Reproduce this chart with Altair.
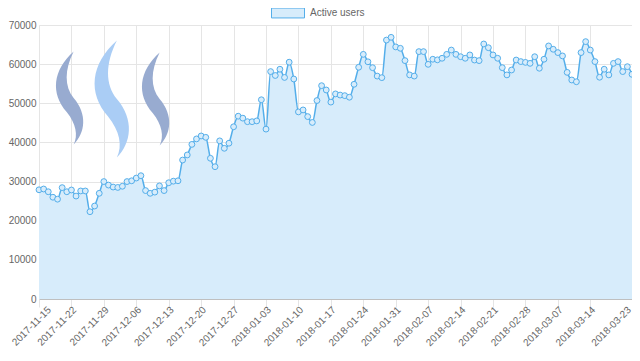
import altair as alt
import pandas as pd

start_date = "2017-11-15"
active_users = [
    27900, 28100, 27400, 26000, 25500, 28450, 27400, 27850, 26300, 27600,
    27600, 22300, 23750, 27000, 30000, 29100, 28600, 28500, 28800, 30000,
    30200, 30900, 31500, 27700, 27000, 27300, 28900, 27700, 29700, 30100,
    30200, 35500, 36800, 39500, 40900, 41650, 41300, 35950, 33800, 40400,
    38500, 39800, 44000, 46700, 46200, 45300, 45300, 45500, 50900, 43400,
    58100, 57100, 58700, 56600, 60500, 56200, 47800, 48300, 46600, 45100,
    50700, 54500, 53400, 50300, 52400, 52100, 51950, 51550, 54850, 59200,
    62500, 60600, 59100, 56950, 56550, 66150, 66850, 64400, 64050, 60900,
    57250, 56950, 63200, 63200, 59950, 61250, 61100, 61500, 62500, 63600,
    62500, 61900, 61500, 62350, 61050, 60900, 65150, 64200, 62350, 61500,
    59100, 57250, 58500, 61050, 60650, 60450, 60200, 61900, 58950, 61250,
    64650, 63800, 62950, 62100, 57900, 55950, 55500, 62950, 65750, 63600,
    60650, 56650, 58700, 57250, 60200, 60650, 58100, 59350, 57400,
]
tick_labels = [
    "2017-11-15", "2017-11-22", "2017-11-29", "2017-12-06", "2017-12-13",
    "2017-12-20", "2017-12-27", "2018-01-03", "2018-01-10", "2018-01-17",
    "2018-01-24", "2018-01-31", "2018-02-07", "2018-02-14", "2018-02-21",
    "2018-02-28", "2018-03-07", "2018-03-14", "2018-03-23",
]
y_ticks = [0, 10000, 20000, 30000, 40000, 50000, 60000, 70000]
series_name = "Active users"

dates = pd.date_range(start_date, periods=len(active_users), freq="D")
df = pd.DataFrame({"date": [d.strftime("%Y-%m-%d") for d in dates],
                   "users": active_users,
                   "s": series_name})


def ms(s):
    return int(pd.Timestamp(s, tz="UTC").timestamp() * 1000)


tick_ms = [ms(t) for t in tick_labels]
x_dom = [ms(df["date"].iloc[0]), ms(df["date"].iloc[-1])]

LINE = "#54aeea"
FILL = "#d7ecfb"
GRID = "#e5e5e5"
FONT = "Liberation Sans"

label_offset = {
    "condition": [
        {"test": f"datum.value <= {tick_ms[0]}", "value": 10},
        {"test": f"datum.value >= {tick_ms[-1]}", "value": -3},
    ],
    "value": 3,
}

x_enc = alt.X(
    "date:T",
    scale=alt.Scale(type="utc", domain=x_dom, nice=False),
    axis=alt.Axis(
        values=tick_ms, labelExpr="utcFormat(datum.value, '%Y-%m-%d')",
        labelAngle=-45, labelAlign="right", labelBaseline="middle",
        tickSize=8, labelPadding=1, labelOffset=label_offset,
        tickColor=GRID, gridColor=GRID,
        domainColor="#bfbfbf", labelFont=FONT, labelFontSize=10,
        labelColor="#666666", title=None, labelOverlap=False, labelBound=False,
    ),
)
y_enc = alt.Y(
    "users:Q",
    scale=alt.Scale(domain=[0, 70000], nice=False, zero=True),
    axis=alt.Axis(
        values=y_ticks, format="d", tickSize=0, labelPadding=3,
        gridColor=GRID, domainColor=GRID, labelFont=FONT, labelOverlap=False,
        labelFontSize=10, labelColor="#666666", title=None,
    ),
)

area = alt.Chart(df).mark_area(interpolate="monotone", opacity=1).encode(
    x=x_enc, y=y_enc,
    color=alt.Color(
        "s:N",
        scale=alt.Scale(range=[FILL]),
        legend=alt.Legend(
            title=None, orient="none", legendX=232, legendY=-29,
            symbolType="M-1,-0.3H1V0.3H-1Z", symbolSize=1089,
            symbolStrokeColor=LINE, symbolStrokeWidth=1, symbolOpacity=1,
            labelFont=FONT, labelFontSize=10, labelColor="#666666",
            labelOffset=5, padding=0,
        ),
    ),
)

line = alt.Chart(df).mark_line(
    interpolate="monotone", color=LINE, strokeWidth=1.5
).encode(x=x_enc, y=y_enc)

points = alt.Chart(df).mark_point(
    shape="circle", filled=True, fill=FILL, stroke=LINE, strokeWidth=1,
    size=34, opacity=1,
).encode(x=x_enc, y=y_enc)

one = pd.DataFrame({"k": [0]})
wave = ("M0.1,-1 C-0.35,-0.6 -0.4,-0.1 -0.05,0.3 C0.15,0.55 0.2,0.8 0.1,1 "
        "C0.35,0.75 0.4,0.35 0.1,0.0 C-0.1,-0.25 -0.1,-0.6 0.1,-1 Z")
logo_left = alt.Chart(one).mark_point(
    shape=wave, filled=True, fill="#98abd0", strokeWidth=0, size=8650, opacity=1
).encode(x=alt.value(30), y=alt.value(73))
logo_mid = alt.Chart(one).mark_point(
    shape=wave, filled=True, fill="#aacdf5", strokeWidth=0, size=13700, opacity=1
).encode(x=alt.value(72), y=alt.value(74))
logo_right = alt.Chart(one).mark_point(
    shape=wave, filled=True, fill="#98abd0", strokeWidth=0, size=8650, opacity=1
).encode(x=alt.value(116), y=alt.value(74))

chart = alt.layer(area, line, points, logo_left, logo_mid, logo_right).properties(
    width=593, height=274,
    autosize=alt.AutoSizeParams(type="none"),
    padding={"left": 31, "top": 17, "right": 0, "bottom": 52},
).configure_view(stroke=None)

chart.save("out.html", embed_options={"renderer": "svg", "actions": False})
